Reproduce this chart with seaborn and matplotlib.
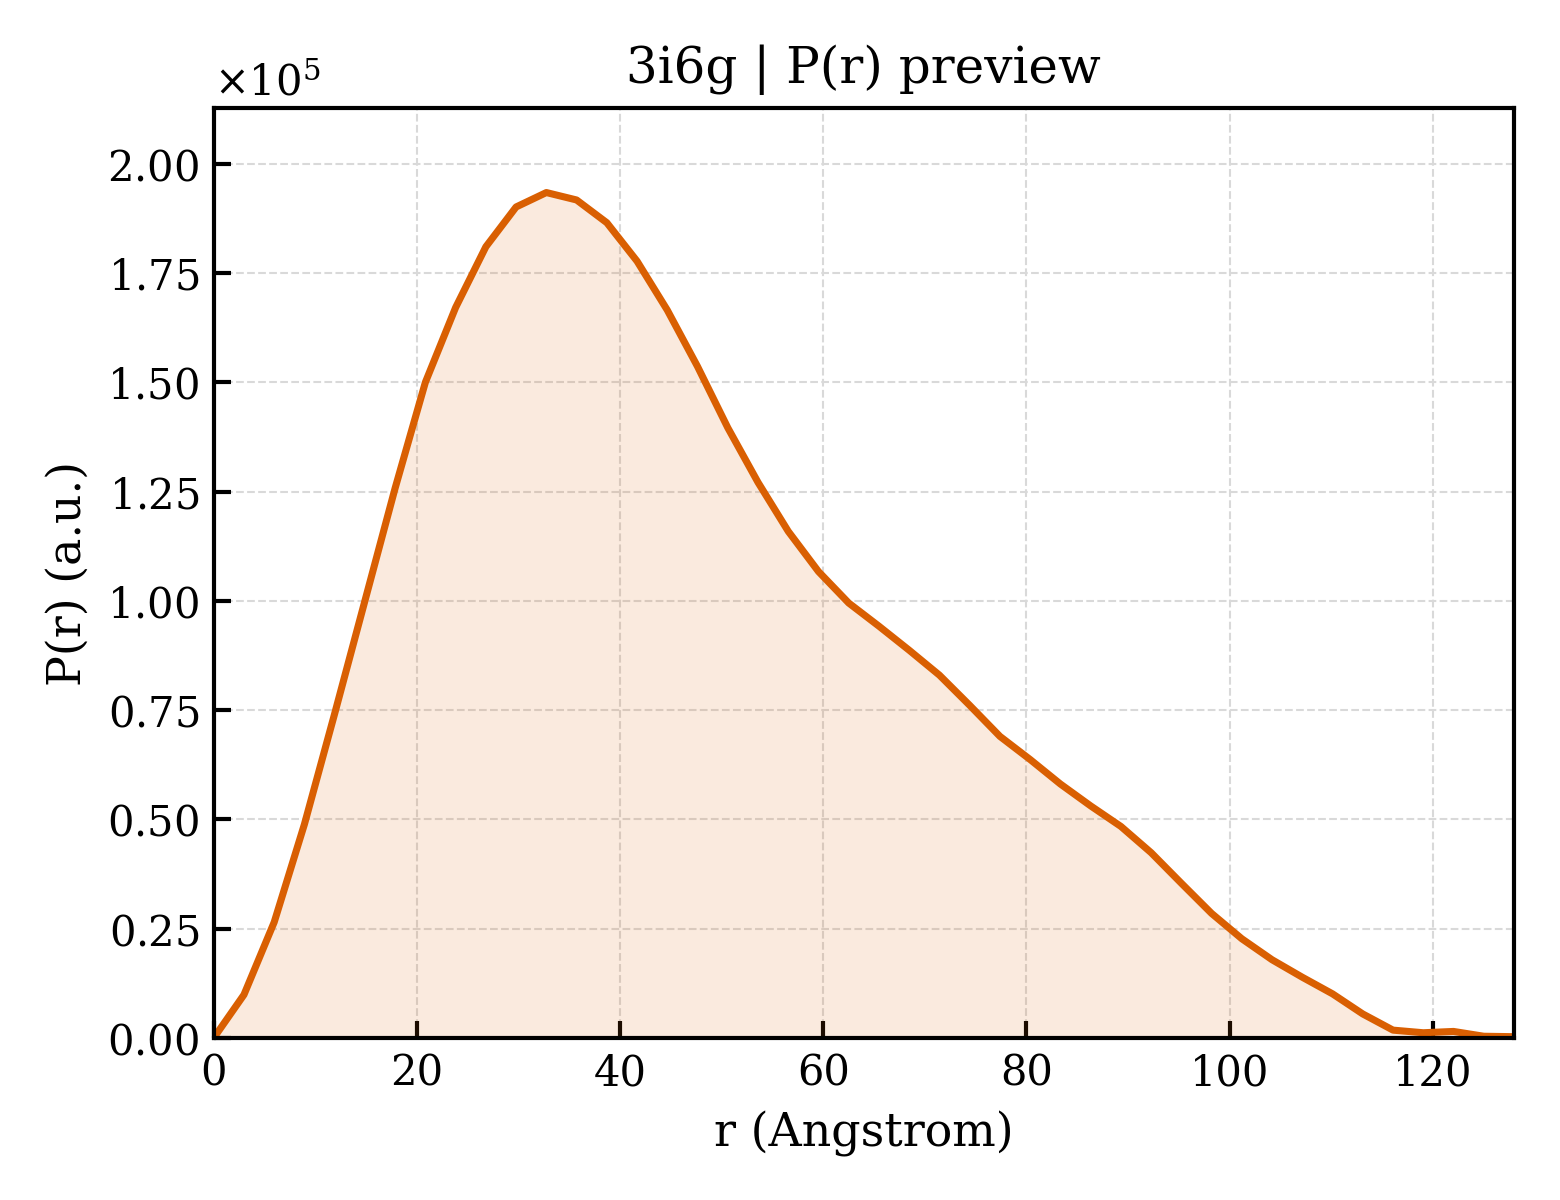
import numpy as np
import matplotlib
matplotlib.use("Agg")
import matplotlib.pyplot as plt
import seaborn as sns
from matplotlib.ticker import ScalarFormatter

r_max = 128.0
r = np.linspace(0, r_max, 44)
p_r = [0, 9900, 26500, 48900, 74200, 100000, 125800, 150000, 167100, 181000,
       190100, 193400, 191700, 186500, 177700, 166500, 153600, 139600, 127100,
       115900, 106700, 99500, 94200, 88700, 83000, 76100, 69000, 63700, 58100,
       53100, 48400, 42400, 35400, 28500, 22700, 17900, 13900, 10100, 5500,
       1800, 1200, 1500, 400, 300]

line_color = "#d95f02"

sns.set_theme(style="white")
plt.rcParams["font.family"] = ["DejaVu Serif"]
plt.rcParams["mathtext.fontset"] = "dejavuserif"
plt.rcParams["text.color"] = "black"
plt.rcParams["axes.labelcolor"] = "black"

fig, ax = plt.subplots(figsize=(5.2, 4), dpi=300)
fig.subplots_adjust(left=0.137, right=0.9705, bottom=0.135, top=0.91)

sns.lineplot(x=r, y=p_r, ax=ax, color=line_color, linewidth=1.7)
ax.fill_between(r, p_r, 0, color=line_color, alpha=0.13, linewidth=0)

ax.set_xlim(0, r_max)
ax.set_ylim(0, max(p_r) * 1.1)
ax.set_xticks(np.arange(0, 121, 20))

fmt = ScalarFormatter(useMathText=True)
fmt.set_powerlimits((0, 0))
ax.yaxis.set_major_formatter(fmt)
ax.yaxis.get_offset_text().set_fontsize(10)
ax.yaxis.get_offset_text().set_color("black")

ax.grid(True, linestyle="--", linewidth=0.5, color="#d9d9d9")
ax.tick_params(direction="in", length=4, width=1.0, labelsize=10,
               colors="black", bottom=True, left=True)
for s in ax.spines.values():
    s.set_color("black")
    s.set_linewidth(1.0)

ax.set_title("3i6g | P(r) preview", fontsize=12, color="black")
ax.set_xlabel("r (Angstrom)", fontsize=11, color="black")
ax.set_ylabel("P(r) (a.u.)", fontsize=11, color="black")

fig.savefig("out.png", dpi=300)
